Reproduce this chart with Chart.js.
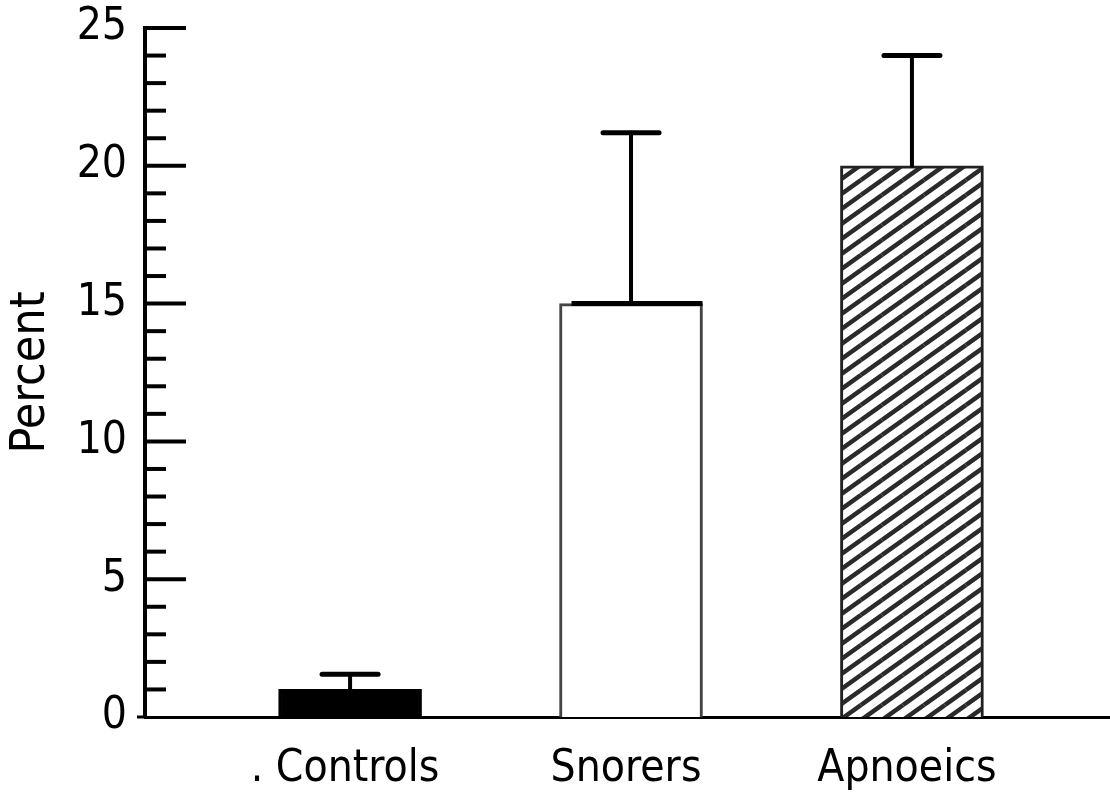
<!DOCTYPE html>
<html>
<head>
<meta charset="utf-8">
<script src="https://cdn.jsdelivr.net/npm/chart.js@4.4.0/dist/chart.umd.min.js"></script>
<style>
  body { margin: 0; background: #fff; }
  #wrap { width: 1110px; height: 797px; }
</style>
</head>
<body>
<div id="wrap"><canvas id="chart" width="1110" height="797"></canvas></div>
<script>
// Values
const categories = ['. Controls', 'Snorers', 'Apnoeics'];
const positions = [1, 2, 3];
const percentValues = [1.0, 15.0, 20.0];
const errorTops = [1.55, 21.2, 24.0];
const yTickValues = [0, 5, 10, 15, 20, 25];

const FONT = "'DejaVu Sans Condensed', 'DejaVu Sans', sans-serif";

// Diagonal hatch for the Apnoeics bar
function makeHatch() {
    const w = 21, h = 15;
    const c = document.createElement('canvas');
    c.width = w;
    c.height = h;
    const g = c.getContext('2d');
    g.fillStyle = '#fff';
    g.fillRect(0, 0, w, h);
    g.strokeStyle = '#2a2a2a';
    g.lineWidth = 4.5;
    for (let i = -1; i <= 1; i++) {
        for (let j = -1; j <= 1; j++) {
            g.beginPath();
            g.moveTo(i * w, h + j * h);
            g.lineTo(i * w + w, j * h);
            g.stroke();
        }
    }
    return g.createPattern(c, 'repeat');
}

// Ticks drawn inward from the y axis, long every 5, short every 1
const inwardTicks = {
    id: 'inwardTicks',
    afterDraw(chart) {
        const y = chart.scales.y;
        const left = chart.chartArea.left;
        const ctx = chart.ctx;
        ctx.save();
        ctx.strokeStyle = '#000';
        ctx.lineWidth = 4;
        for (let v = y.min + 1; v <= y.max; v++) {
            const py = y.getPixelForValue(v);
            const len = yTickValues.includes(v) ? 41 : 21;
            ctx.beginPath();
            ctx.moveTo(left, py);
            ctx.lineTo(left + len, py);
            ctx.stroke();
        }
        // baseline runs a little past the axis on the left
        const py0 = y.getPixelForValue(0);
        ctx.lineWidth = 3;
        ctx.beginPath();
        ctx.moveTo(left - 8, py0);
        ctx.lineTo(left, py0);
        ctx.stroke();
        ctx.restore();
    }
};

// Upper error bars
const errorBars = {
    id: 'errorBars',
    afterDatasetsDraw(chart) {
        const meta = chart.getDatasetMeta(0);
        const y = chart.scales.y;
        const ctx = chart.ctx;
        ctx.save();
        ctx.strokeStyle = '#000';
        ctx.lineCap = 'round';
        meta.data.forEach((bar, i) => {
            const capY = y.getPixelForValue(errorTops[i]);
            ctx.lineWidth = 4;
            ctx.beginPath();
            ctx.moveTo(bar.x, bar.y);
            ctx.lineTo(bar.x, capY);
            ctx.stroke();
            ctx.lineWidth = 5;
            ctx.beginPath();
            ctx.moveTo(bar.x - 28, capY);
            ctx.lineTo(bar.x + 28, capY);
            ctx.stroke();
        });
        // heavy top edge on the open Snorers bar
        const s = meta.data[1];
        ctx.lineWidth = 5;
        ctx.lineCap = 'butt';
        ctx.beginPath();
        ctx.moveTo(s.x - s.width / 2 + 12, s.y);
        ctx.lineTo(s.x + s.width / 2, s.y);
        ctx.stroke();
        ctx.restore();
    }
};

function init() {
    const ctx = document.getElementById('chart').getContext('2d');
    new Chart(ctx, {
        type: 'bar',
        data: {
            datasets: [{
                data: positions.map((p, i) => ({ x: p, y: percentValues[i] })),
                backgroundColor: ['#000', '#fff', makeHatch()],
                borderColor: ['#000', '#444', '#222'],
                borderWidth: 3,
                borderSkipped: 'bottom',
                barThickness: 143
            }]
        },
        options: {
            responsive: false,
            animation: false,
            layout: { padding: { top: 28, left: 0, right: 0, bottom: 0 } },
            plugins: {
                legend: { display: false },
                tooltip: { enabled: false }
            },
            scales: {
                x: {
                    type: 'linear',
                    min: 0.27,
                    max: 3.705,
                    offset: false,
                    grid: { display: false, offset: false },
                    border: { display: true, color: '#000', width: 3 },
                    afterBuildTicks: s => { s.ticks = positions.map(p => ({ value: p })); },
                    afterFit: s => { s.height = 80; s.paddingLeft = 0; s.paddingRight = 0; },
                    ticks: {
                        padding: 18,
                        labelOffset: -5,
                        color: '#000',
                        font: { family: FONT, size: 44 },
                        callback: v => categories[positions.indexOf(v)] || ''
                    }
                },
                y: {
                    min: 0,
                    max: 25,
                    grid: { display: false },
                    border: { display: true, color: '#000', width: 4 },
                    afterFit: s => { s.width = 145; s.paddingTop = 0; s.paddingBottom = 0; },
                    afterBuildTicks: s => { s.ticks = yTickValues.map(v => ({ value: v })); },
                    ticks: {
                        padding: 10,
                        color: '#000',
                        font: { family: FONT, size: 44 }
                    },
                    title: {
                        display: true,
                        text: 'Percent',
                        color: '#000',
                        font: { family: FONT, size: 48 },
                        padding: { top: 3, bottom: 0 }
                    }
                }
            }
        },
        plugins: [inwardTicks, errorBars]
    });
}

document.addEventListener('DOMContentLoaded', init);
</script>
</body>
</html>
